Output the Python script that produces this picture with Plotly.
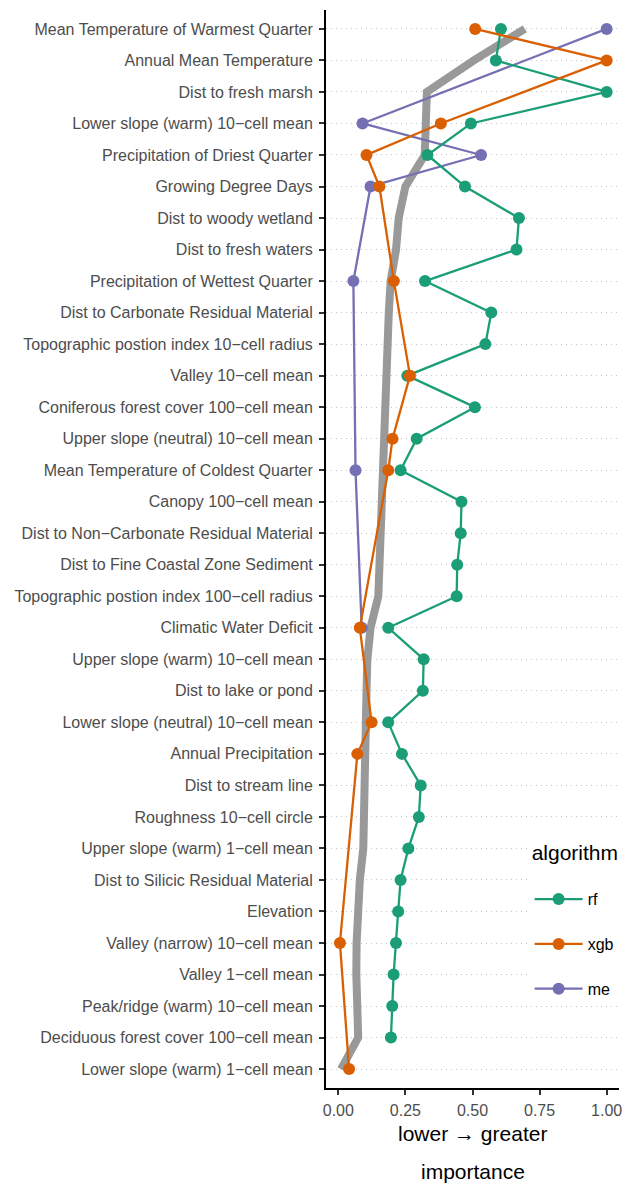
import plotly.graph_objects as go

categories = [
    "Mean Temperature of Warmest Quarter",
    "Annual Mean Temperature",
    "Dist to fresh marsh",
    "Lower slope (warm) 10\u2212cell mean",
    "Precipitation of Driest Quarter",
    "Growing Degree Days",
    "Dist to woody wetland",
    "Dist to fresh waters",
    "Precipitation of Wettest Quarter",
    "Dist to Carbonate Residual Material",
    "Topographic postion index 10\u2212cell radius",
    "Valley 10\u2212cell mean",
    "Coniferous forest cover 100\u2212cell mean",
    "Upper slope (neutral) 10\u2212cell mean",
    "Mean Temperature of Coldest Quarter",
    "Canopy 100\u2212cell mean",
    "Dist to Non\u2212Carbonate Residual Material",
    "Dist to Fine Coastal Zone Sediment",
    "Topographic postion index 100\u2212cell radius",
    "Climatic Water Deficit",
    "Upper slope (warm) 10\u2212cell mean",
    "Dist to lake or pond",
    "Lower slope (neutral) 10\u2212cell mean",
    "Annual Precipitation",
    "Dist to stream line",
    "Roughness 10\u2212cell circle",
    "Upper slope (warm) 1\u2212cell mean",
    "Dist to Silicic Residual Material",
    "Elevation",
    "Valley (narrow) 10\u2212cell mean",
    "Valley 1\u2212cell mean",
    "Peak/ridge (warm) 10\u2212cell mean",
    "Deciduous forest cover 100\u2212cell mean",
    "Lower slope (warm) 1\u2212cell mean",
]

rf = [0.606, 0.587, 1.0, 0.494, 0.332, 0.472, 0.673, 0.664, 0.323, 0.570,
      0.548, 0.257, 0.509, 0.292, 0.232, 0.459, 0.456, 0.443, 0.441, 0.186,
      0.318, 0.315, 0.186, 0.237, 0.307, 0.300, 0.261, 0.232, 0.223, 0.215,
      0.206, 0.201, 0.196, None]

xgb = [0.510, 1.0, None, 0.382, 0.105, 0.153, None, None, 0.207, None,
       None, 0.267, None, 0.202, 0.186, None, None, None, None, 0.080,
       None, None, 0.124, 0.071, None, None, None, None, None, 0.006,
       None, None, None, 0.040]

me = [1.0, None, None, 0.090, 0.532, 0.120, None, None, 0.056, None,
      None, None, None, None, 0.064, None, None, None, None, 0.087,
      None, None, None, None, None, None, None, None, None, None,
      None, None, None, None]

overall = [0.695, 0.505, 0.330, 0.327, 0.322, 0.250, 0.225, 0.215, 0.195, 0.188,
           0.184, 0.180, 0.176, 0.172, 0.168, 0.163, 0.158, 0.153, 0.149, 0.120,
           0.108, 0.105, 0.104, 0.102, 0.100, 0.098, 0.093, 0.080, 0.071, 0.068,
           0.067, 0.068, 0.074, 0.010]

x_ticks = [0, 0.25, 0.5, 0.75, 1.0]
x_ticklabels = ["0.00", "0.25", "0.50", "0.75", "1.00"]

colors = {"rf": "#1B9E77", "xgb": "#D95F02", "me": "#7570B3"}
series = {"rf": rf, "xgb": xgb, "me": me}
rank = {"rf": 1, "xgb": 2, "me": 3}

fig = go.Figure()
fig.add_trace(go.Scatter(
    x=overall, y=categories, mode="lines",
    line=dict(color="rgb(153,153,153)", width=8),
    showlegend=False, hoverinfo="skip",
))
for name in ["me", "rf", "xgb"]:
    fig.add_trace(go.Scatter(
        x=series[name], y=categories, mode="lines+markers", name=name,
        connectgaps=True,
        line=dict(color=colors[name], width=2.3),
        marker=dict(color=colors[name], size=12),
        legendgroup=name, legendrank=rank[name],
    ))

W, H = 631, 1184
ML, MR, MT, MB = 326, 12, 10, 96
plot_h = H - MT - MB

font_family = "Liberation Sans, Arial, sans-serif"
fig.update_layout(
    width=W, height=H,
    margin=dict(l=ML, r=MR, t=MT, b=MB),
    plot_bgcolor="white", paper_bgcolor="white",
    font=dict(family=font_family, color="#4d4d4d"),
    xaxis=dict(
        range=[-0.046, 1.046], tickvals=x_ticks, ticktext=x_ticklabels,
        showgrid=False, zeroline=False, automargin=False,
        showline=True, linecolor="black", linewidth=2,
        ticks="outside", ticklen=5, tickwidth=1.5, tickcolor="#333333",
        tickfont=dict(size=16, color="#4d4d4d"), ticklabelstandoff=2,
    ),
    yaxis=dict(
        type="category", categoryorder="array", categoryarray=categories,
        range=[33.6, -0.6], automargin=False,
        showgrid=True, gridcolor="#c4c4c4", gridwidth=1, griddash="1px,4px",
        zeroline=False,
        showline=True, linecolor="black", linewidth=2,
        ticks="outside", ticklen=5, tickwidth=1.5, tickcolor="#333333",
        tickfont=dict(size=16, color="#4d4d4d"), ticklabelstandoff=3,
    ),
    legend=dict(
        x=0.695, y=(H - MB - 838) / plot_h, xanchor="left", yanchor="top",
        bgcolor="white",
        title=dict(text="<span style='font-size:21px'>algorithm</span><br> ",
                   font=dict(size=17, color="black")),
        font=dict(size=16, color="black"),
        tracegroupgap=21, itemwidth=48,
    ),
    annotations=[
        dict(text="lower \u2192 greater", x=0.5, y=(H - MB - 1133) / plot_h,
             xref="paper", yref="paper", yanchor="middle",
             showarrow=False, font=dict(size=21, color="black")),
        dict(text="importance", x=0.5, y=(H - MB - 1171) / plot_h,
             xref="paper", yref="paper", yanchor="middle",
             showarrow=False, font=dict(size=21, color="black")),
    ],
)

fig.write_html("out.html", config={"displayModeBar": False},
               post_script="document.body.style.margin='0';")
